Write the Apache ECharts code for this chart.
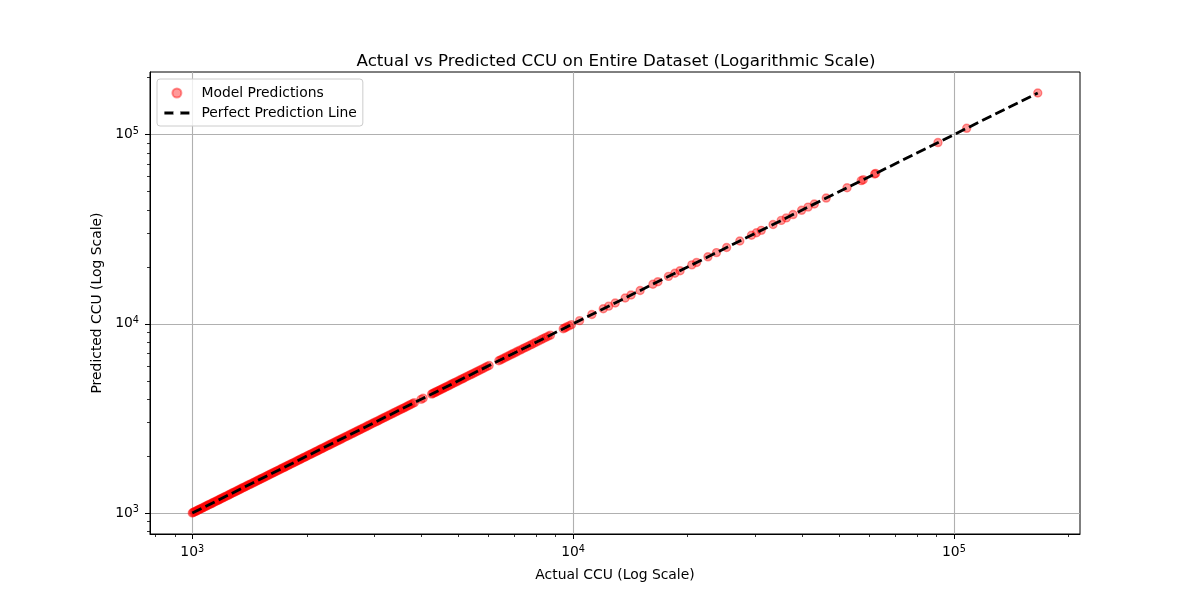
<!DOCTYPE html>
<html>
<head>
<meta charset="utf-8">
<script src="https://cdn.jsdelivr.net/npm/echarts@6/dist/echarts.min.js"></script>
<style>
  html, body { margin: 0; padding: 0; background: #fff; }
  #chart-container { width: 1200px; height: 600px; }
</style>
</head>
<body>
<div id="chart-container"></div>
<script>
// values
const actualCCU = [
  1000, 1006, 1012, 1018, 1025, 1031, 1038, 1044, 1050, 1057, 1065, 1072, 1080, 1088, 1095, 1102, 1110, 1118, 1125, 1132,
  1140, 1149, 1158, 1166, 1175, 1182, 1190, 1199, 1208, 1216, 1225, 1235, 1245, 1253, 1262, 1271, 1280, 1290, 1300, 1310,
  1320, 1330, 1340, 1350, 1360, 1370, 1380, 1390, 1400, 1411, 1422, 1433, 1445, 1456, 1468, 1479, 1490, 1501, 1512, 1523,
  1535, 1547, 1560, 1572, 1585, 1597, 1610, 1622, 1635, 1647, 1660, 1675, 1690, 1704, 1718, 1731, 1745, 1758, 1772, 1786,
  1800, 1815, 1830, 1846, 1862, 1878, 1895, 1910, 1925, 1941, 1958, 1974, 1990, 2007, 2025, 2042, 2060, 2077, 2095, 2112,
  2130, 2147, 2165, 2182, 2200, 2220, 2240, 2260, 2280, 2300, 2320, 2340, 2360, 2380, 2400, 2422, 2445, 2467, 2490, 2515,
  2540, 2565, 2590, 2615, 2640, 2665, 2690, 2715, 2740, 2765, 2790, 2817, 2845, 2872, 2900, 2930, 2960, 2990, 3020, 3050,
  3080, 3110, 3140, 3170, 3200, 3232, 3265, 3297, 3330, 3365, 3400, 3435, 3470, 3505, 3540, 3575, 3610, 3645, 3680, 3715,
  3750, 3790, 3830, 3990, 4040, 4250, 4280, 4310, 4345, 4380, 4415, 4450, 4490, 4530, 4570, 4610, 4655, 4700, 4745, 4790,
  4835, 4880, 4935, 4990, 5045, 5100, 5150, 5200, 5265, 5330, 5390, 5450, 5515, 5580, 5650, 5720, 5795, 5870, 5945, 6020,
  6380, 6450, 6520, 6600, 6680, 6760, 6840, 6920, 7000, 7090, 7180, 7280, 7380, 7480, 7580, 7685, 7790, 7895, 8000, 8125,
  8250, 8365, 8480, 8600, 8720, 9420, 9515, 9610, 9755, 9900, 10400, 11200, 12000, 12400, 12900, 13700, 14200, 15000, 16200, 16700,
  17800, 18500, 19100, 20500, 21100, 22600, 23800, 25300, 27400, 29400, 30300, 31200, 33500, 35200, 36300, 37800, 39800, 41400, 43000, 46200,
  52400, 57100, 57800, 61900, 62300, 90800, 108000, 166000
];
const predictedCCU = [
  1000, 1006, 1013, 1018, 1024, 1031, 1038, 1045, 1051, 1057, 1064, 1072, 1080, 1088, 1096, 1102, 1110, 1117, 1124, 1132,
  1141, 1149, 1158, 1166, 1174, 1182, 1190, 1198, 1209, 1216, 1225, 1235, 1244, 1253, 1262, 1271, 1281, 1290, 1300, 1310,
  1319, 1330, 1340, 1351, 1361, 1370, 1380, 1389, 1401, 1411, 1422, 1433, 1444, 1456, 1468, 1479, 1491, 1501, 1512, 1523,
  1534, 1547, 1560, 1572, 1586, 1597, 1610, 1622, 1634, 1647, 1660, 1675, 1691, 1704, 1718, 1731, 1744, 1758, 1772, 1786,
  1801, 1815, 1830, 1846, 1861, 1878, 1895, 1910, 1926, 1941, 1958, 1974, 1989, 2007, 2025, 2042, 2061, 2077, 2095, 2112,
  2129, 2147, 2165, 2182, 2201, 2220, 2240, 2260, 2279, 2300, 2320, 2340, 2362, 2380, 2400, 2422, 2444, 2467, 2490, 2515,
  2541, 2565, 2590, 2615, 2638, 2665, 2690, 2715, 2742, 2765, 2790, 2817, 2843, 2872, 2900, 2930, 2962, 2990, 3020, 3050,
  3078, 3110, 3140, 3170, 3202, 3232, 3265, 3297, 3328, 3365, 3400, 3435, 3472, 3505, 3540, 3575, 3608, 3645, 3680, 3715,
  3752, 3790, 3830, 3988, 4040, 4252, 4280, 4310, 4345, 4378, 4415, 4450, 4490, 4532, 4570, 4610, 4655, 4698, 4745, 4790,
  4835, 4882, 4935, 4990, 5045, 5098, 5150, 5200, 5265, 5333, 5390, 5450, 5515, 5577, 5650, 5720, 5795, 5873, 5945, 6020,
  6376, 6450, 6520, 6600, 6684, 6760, 6840, 6920, 6996, 7090, 7180, 7280, 7385, 7480, 7580, 7685, 7785, 7895, 8000, 8125,
  8256, 8365, 8480, 8600, 8714, 9420, 9515, 9617, 9755, 9900, 10390, 11200, 12010, 12400, 12890, 13700, 14210, 15000, 16190, 16700,
  17810, 18500, 19090, 20500, 21110, 22600, 23790, 25300, 27410, 29400, 30290, 31200, 33510, 35200, 36290, 37800, 39810, 41400, 42990, 46200,
  52410, 57100, 57790, 61900, 62310, 90800, 108000, 166000
];
const perfectLine = [1000, 166000];
const majorTicks = [1000, 10000, 100000];
const minorTicks = [800, 900, 2000, 3000, 4000, 5000, 6000, 7000, 8000, 9000,
  20000, 30000, 40000, 50000, 60000, 70000, 80000, 90000, 200000];

const axisMin = 774.5;
const axisMax = 214300;
const FONT = 'DejaVu Sans';
const DASH = [10.3, 4.4];

var dom = document.getElementById('chart-container');
var myChart = echarts.init(dom, null, { renderer: 'canvas' });

const supLabel = v => '{b|10}{sup|' + Math.round(Math.log10(v)) + '}';
const labelRich = {
  b: { fontSize: 13.9, fontFamily: FONT, color: '#000' },
  sup: { fontSize: 9.7, fontFamily: FONT, color: '#000', padding: [0, 0, 7, 0] }
};

function mainAxis(isX) {
  return {
    type: 'log',
    logBase: 10,
    min: axisMin,
    max: axisMax,
    position: isX ? 'bottom' : 'left',
    name: isX ? 'Actual CCU (Log Scale)' : 'Predicted CCU (Log Scale)',
    nameLocation: 'middle',
    nameGap: isX ? 34 : 33,
    nameTextStyle: { fontFamily: FONT, fontSize: 13.9, color: '#000' },
    axisLine: { show: true, lineStyle: { color: '#000', width: 1 } },
    axisTick: { show: true, customValues: majorTicks, length: 5, lineStyle: { color: '#000', width: 1 } },
    axisLabel: { customValues: majorTicks, margin: isX ? 10 : 11, formatter: supLabel, rich: labelRich },
    splitLine: { show: true, lineStyle: { color: '#b0b0b0', width: 1.1 } },
    minorTick: { show: false },
    minorSplitLine: { show: false }
  };
}

// second axis folded back onto the same edge, only for the minor ticks
function minorAxis(isX) {
  return {
    type: 'log',
    logBase: 10,
    min: axisMin,
    max: axisMax,
    position: isX ? 'top' : 'right',
    offset: isX ? -462 : -930,
    axisLine: { show: false },
    axisTick: { show: true, inside: true, customValues: minorTicks, length: 3, lineStyle: { color: '#000', width: 0.8 } },
    axisLabel: { show: false },
    splitLine: { show: false }
  };
}

var option = {
  animation: false,
  backgroundColor: '#fff',
  title: {
    text: 'Actual vs Predicted CCU on Entire Dataset (Logarithmic Scale)',
    left: 611,
    top: 48,
    textAlign: 'center',
    textStyle: { fontFamily: FONT, fontSize: 16.7, fontWeight: 'normal', color: '#000' }
  },
  legend: {
    orient: 'vertical',
    left: 157,
    top: 79,
    padding: [7, 6, 6, 6],
    itemGap: 6,
    itemWidth: 25,
    itemHeight: 9,
    backgroundColor: 'rgba(255,255,255,0.8)',
    borderColor: '#cccccc',
    borderWidth: 1,
    borderRadius: 3,
    textStyle: { fontFamily: FONT, fontSize: 13.9, color: '#000', padding: [0, 0, 0, 7] },
    data: [
      'Model Predictions',
      { name: 'Perfect Prediction Line', lineStyle: { color: '#000', width: 2.8, type: DASH } }
    ]
  },
  grid: {
    left: 150,
    right: 120,
    top: 72,
    bottom: 66,
    show: true,
    borderColor: '#000',
    borderWidth: 1,
    backgroundColor: 'transparent'
  },
  xAxis: [mainAxis(true), minorAxis(true)],
  yAxis: [mainAxis(false), minorAxis(false)],
  series: [
    {
      name: 'Model Predictions',
      type: 'scatter',
      xAxisIndex: 0,
      yAxisIndex: 0,
      symbolSize: 8,
      itemStyle: { color: 'rgba(255,0,0,0.5)', borderColor: 'rgba(255,0,0,0.5)', borderWidth: 1.4 },
      data: actualCCU.map((a, i) => [a, predictedCCU[i]])
    },
    {
      name: 'Perfect Prediction Line',
      type: 'line',
      xAxisIndex: 0,
      yAxisIndex: 0,
      symbol: 'emptyCircle',
      showSymbol: false,
      lineStyle: { color: '#000', width: 2.8, type: DASH },
      itemStyle: { color: 'rgba(0,0,0,0)', borderColor: 'rgba(0,0,0,0)' },
      data: perfectLine.map(v => [v, v])
    }
  ]
};

myChart.setOption(option);
window.addEventListener('resize', myChart.resize);
</script>
</body>
</html>
